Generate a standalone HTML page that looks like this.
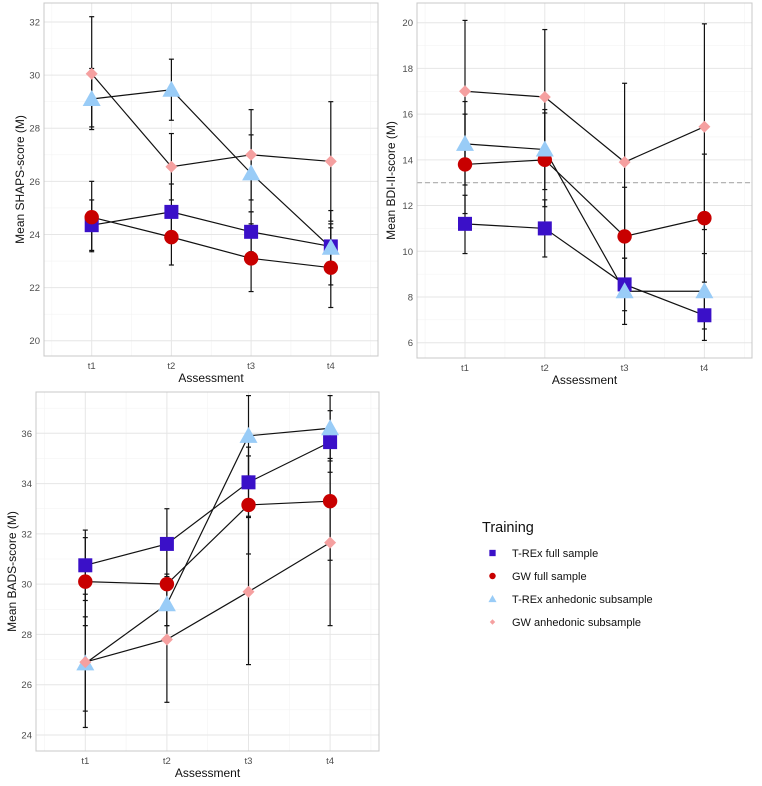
<!DOCTYPE html>
<html><head><meta charset="utf-8">
<style>
html,body{margin:0;padding:0;background:#fff;}
svg{display:block;font-family:"Liberation Sans",Arial,sans-serif;}
</style></head>
<body>
<svg id="chart" width="762" height="786" viewBox="0 0 762 786" xmlns="http://www.w3.org/2000/svg"></svg>
<script>
// ---- shared data ----
const categories = ["t1","t2","t3","t4"];
const seriesNames = ["T-REx full sample","GW full sample","T-REx anhedonic subsample","GW anhedonic subsample"];

// SHAPS
const shapsTrexFull = [24.35, 24.85, 24.1, 23.55];
const shapsTrexFullLo = [23.4, 23.85, 23.35, 22.7];
const shapsTrexFullHi = [25.3, 25.9, 24.85, 24.4];
const shapsGwFull = [24.65, 23.9, 23.1, 22.75];
const shapsGwFullLo = [23.35, 22.85, 21.85, 21.25];
const shapsGwFullHi = [26.0, 24.95, 24.4, 24.25];
const shapsTrexAnh = [29.1, 29.45, 26.3, 23.5];
const shapsTrexAnhLo = [27.95, 28.3, 24.85, 22.1];
const shapsTrexAnhHi = [30.25, 30.6, 27.75, 24.9];
const shapsGwAnh = [30.05, 26.55, 27.0, 26.75];
const shapsGwAnhLo = [28.05, 25.3, 25.3, 24.5];
const shapsGwAnhHi = [32.2, 27.8, 28.7, 29.0];
const shapsTicks = [20, 22, 24, 26, 28, 30, 32];

// BDI
const bdiTrexFull = [11.2, 11.0, 8.55, 7.2];
const bdiTrexFullLo = [9.9, 9.75, 7.4, 6.1];
const bdiTrexFullHi = [12.45, 12.25, 9.7, 8.3];
const bdiGwFull = [13.8, 14.0, 10.65, 11.45];
const bdiGwFullLo = [11.65, 11.95, 8.5, 8.65];
const bdiGwFullHi = [16.0, 16.05, 12.8, 14.25];
const bdiTrexAnh = [14.7, 14.45, 8.25, 8.25];
const bdiTrexAnhLo = [12.9, 12.7, 6.8, 6.6];
const bdiTrexAnhHi = [16.55, 16.2, 9.7, 9.9];
const bdiGwAnh = [17.0, 16.75, 13.9, 15.45];
const bdiGwAnhLo = [13.9, 13.8, 10.45, 10.95];
const bdiGwAnhHi = [20.1, 19.7, 17.35, 19.95];
const bdiTicks = [6, 8, 10, 12, 14, 16, 18, 20];
const bdiCutoff = [13];

// BADS
const badsTrexFull = [30.75, 31.6, 34.05, 35.65];
const badsTrexFullLo = [29.35, 30.2, 32.7, 34.45];
const badsTrexFullHi = [32.15, 33.0, 35.45, 36.9];
const badsGwFull = [30.1, 30.0, 33.15, 33.3];
const badsGwFullLo = [28.35, 28.35, 31.2, 30.95];
const badsGwFullHi = [31.85, 31.65, 35.1, 35.65];
const badsTrexAnh = [26.85, 29.2, 35.9, 36.2];
const badsTrexAnhLo = [24.3, 28.35, 34.3, 34.9];
const badsTrexAnhHi = [29.6, 30.4, 37.5, 37.5];
const badsGwAnh = [26.9, 27.8, 29.7, 31.65];
const badsGwAnhLo = [24.95, 25.3, 26.8, 28.35];
const badsGwAnhHi = [28.7, 30.3, 32.65, 35.0];
const badsTicks = [24, 26, 28, 30, 32, 34, 36];

const NS = "http://www.w3.org/2000/svg";
const svg = document.getElementById("chart");
const colors = ["#3a10c8", "#c80000", "#99ccf7", "#f5a0a0"];
const shapes = ["square", "circle", "triangle", "diamond"];

function mk(tag, attrs, parent) {
  const e = document.createElementNS(NS, tag);
  for (const k in attrs) e.setAttribute(k, attrs[k]);
  (parent || svg).appendChild(e);
  return e;
}

function marker(g, shape, cx, cy, color, s) {
  let e;
  if (shape === "square") e = mk("rect", {x: cx - 7*s, y: cy - 7*s, width: 14*s, height: 14*s, fill: color}, g);
  else if (shape === "circle") e = mk("circle", {cx: cx, cy: cy, r: 7.2*s, fill: color}, g);
  else if (shape === "triangle") e = mk("polygon", {points: `${cx},${cy-9*s} ${cx+9*s},${cy+7*s} ${cx-9*s},${cy+7*s}`, fill: color}, g);
  else e = mk("polygon", {points: `${cx},${cy-6*s} ${cx+6*s},${cy} ${cx},${cy+6*s} ${cx-6*s},${cy}`, fill: color}, g);
  return e;
}

function panel(cfg) {
  const g = mk("g", {});
  
  
  const {left, right, top, bottom, yMin, yMax, xFirst, xStep} = cfg;
  const y = v => bottom - (v - yMin) / (yMax - yMin) * (bottom - top);
  const x = i => xFirst + i * xStep;
  const clip = "clip-" + cfg.name;
  const cp = mk("clipPath", {id: clip}, g);
  mk("rect", {x: left, y: top, width: right - left, height: bottom - top}, cp);
  // minor grid
  for (let i = 0; i < cfg.ticks.length + 1; i++) {
    const v = cfg.ticks[0] - 1 + i * 2;
    if (v > yMin && v < yMax) mk("line", {x1: left, x2: right, y1: y(v), y2: y(v), stroke: "#f3f3f3", "stroke-width": 0.6}, g);
  }
  for (let i = 0; i < categories.length + 1; i++) {
    const xv = x(i - 0.5);
    if (xv > left && xv < right) mk("line", {x1: xv, x2: xv, y1: top, y2: bottom, stroke: "#f3f3f3", "stroke-width": 0.6}, g);
  }
  // major grid + tick labels
  cfg.ticks.forEach(v => {
    const ln = mk("line", {x1: left, x2: right, y1: y(v), y2: y(v), stroke: "#e6e6e6", "stroke-width": 1}, g);
    
    
    const t = mk("text", {x: left - 4, y: y(v) + 3.5, "text-anchor": "end", "font-size": 9.5, fill: "#4d4d4d"}, g);
    t.textContent = v;
    
    
  });
  categories.forEach((c, i) => {
    mk("line", {x1: x(i), x2: x(i), y1: top, y2: bottom, stroke: "#e6e6e6", "stroke-width": 1}, g);
    const t = mk("text", {x: x(i), y: bottom + 13, "text-anchor": "middle", "font-size": 9.5, fill: "#4d4d4d"}, g);
    t.textContent = c;
    
    
  });
  if (cfg.hline) cfg.hline.forEach(v => {
    const d = mk("line", {x1: left, x2: right, y1: y(v), y2: y(v), stroke: "#aaaaaa", "stroke-width": 1.2, "stroke-dasharray": "5,3"}, g);
    
    
  });
  const plot = mk("g", {"clip-path": `url(#${clip})`}, g);
  // lines
  cfg.series.forEach((s, k) => {
    const pts = s.m.map((v, i) => `${x(i)},${y(v)}`).join(" ");
    const pl = mk("polyline", {points: pts, fill: "none", stroke: "#111", "stroke-width": 1.2}, plot);
    
    
  });
  // error bars
  cfg.series.forEach((s, k) => {
    s.m.forEach((v, i) => {
      const eb = mk("g", {stroke: "#111", "stroke-width": 1.2}, plot);
      
      
      mk("line", {x1: x(i), x2: x(i), y1: y(s.lo[i]), y2: y(s.hi[i])}, eb);
      mk("line", {x1: x(i) - 2.5, x2: x(i) + 2.5, y1: y(s.lo[i]), y2: y(s.lo[i])}, eb);
      mk("line", {x1: x(i) - 2.5, x2: x(i) + 2.5, y1: y(s.hi[i]), y2: y(s.hi[i])}, eb);
    });
  });
  // points
  cfg.series.forEach((s, k) => {
    s.m.forEach((v, i) => {
      const p = marker(plot, shapes[k], x(i), y(v), colors[k], 1);
      
      
    });
  });
  const bd = mk("rect", {x: left, y: top, width: right - left, height: bottom - top, fill: "none", stroke: "#c8c8c8", "stroke-width": 1}, g);
  
  
  const xt = mk("text", {x: (left + right) / 2, y: bottom + 26, "text-anchor": "middle", "font-size": 12, fill: "#111"}, g);
  xt.textContent = "Assessment";
  
  
  const yc = (top + bottom) / 2;
  const yt = mk("text", {x: cfg.yTitleX, y: yc, "text-anchor": "middle", "font-size": 12, fill: "#111", transform: `rotate(-90 ${cfg.yTitleX} ${yc})`}, g);
  yt.textContent = cfg.yTitle;
  
  
}

panel({name: "shaps-panel", left: 44, right: 378, top: 3, bottom: 356, yMin: 20 - (356 - 340.7) / 26.56, yMax: 32 + (22 - 3) / 26.56,
  xFirst: 91.7, xStep: 79.7, ticks: shapsTicks, yTitle: "Mean SHAPS-score (M)", yTitleX: 24,
  series: [
    {m: shapsTrexFull, lo: shapsTrexFullLo, hi: shapsTrexFullHi},
    {m: shapsGwFull, lo: shapsGwFullLo, hi: shapsGwFullHi},
    {m: shapsTrexAnh, lo: shapsTrexAnhLo, hi: shapsTrexAnhHi},
    {m: shapsGwAnh, lo: shapsGwAnhLo, hi: shapsGwAnhHi}]});

panel({name: "bdi-panel", left: 417, right: 752, top: 3, bottom: 358, yMin: 6 - (358 - 342.7) / 22.86, yMax: 20 + (22.7 - 3) / 22.86,
  xFirst: 465, xStep: 79.8, ticks: bdiTicks, yTitle: "Mean BDI-II-score (M)", yTitleX: 395, hline: bdiCutoff,
  series: [
    {m: bdiTrexFull, lo: bdiTrexFullLo, hi: bdiTrexFullHi},
    {m: bdiGwFull, lo: bdiGwFullLo, hi: bdiGwFullHi},
    {m: bdiTrexAnh, lo: bdiTrexAnhLo, hi: bdiTrexAnhHi},
    {m: bdiGwAnh, lo: bdiGwAnhLo, hi: bdiGwAnhHi}]});

panel({name: "bads-panel", left: 36, right: 379, top: 392, bottom: 751, yMin: 24 - (751 - 735) / 25.14, yMax: 36 + (433.3 - 392) / 25.14,
  xFirst: 85.3, xStep: 81.6, ticks: badsTicks, yTitle: "Mean BADS-score (M)", yTitleX: 16,
  series: [
    {m: badsTrexFull, lo: badsTrexFullLo, hi: badsTrexFullHi},
    {m: badsGwFull, lo: badsGwFullLo, hi: badsGwFullHi},
    {m: badsTrexAnh, lo: badsTrexAnhLo, hi: badsTrexAnhHi},
    {m: badsGwAnh, lo: badsGwAnhLo, hi: badsGwAnhHi}]});

// legend
const lg = mk("g", {});


const lt = mk("text", {x: 482, y: 532, "font-size": 14.5, fill: "#111"}, lg);
lt.textContent = "Training";


seriesNames.forEach((n, k) => {
  const cy = 553 + k * 23;
  const eg = mk("g", {}, lg);
  
  
  marker(eg, shapes[k], 492.5, cy, colors[k], 0.45);
  const t = mk("text", {x: 512, y: cy + 4, "font-size": 11, fill: "#111"}, eg);
  t.textContent = n;
});
</script>
</body></html>
